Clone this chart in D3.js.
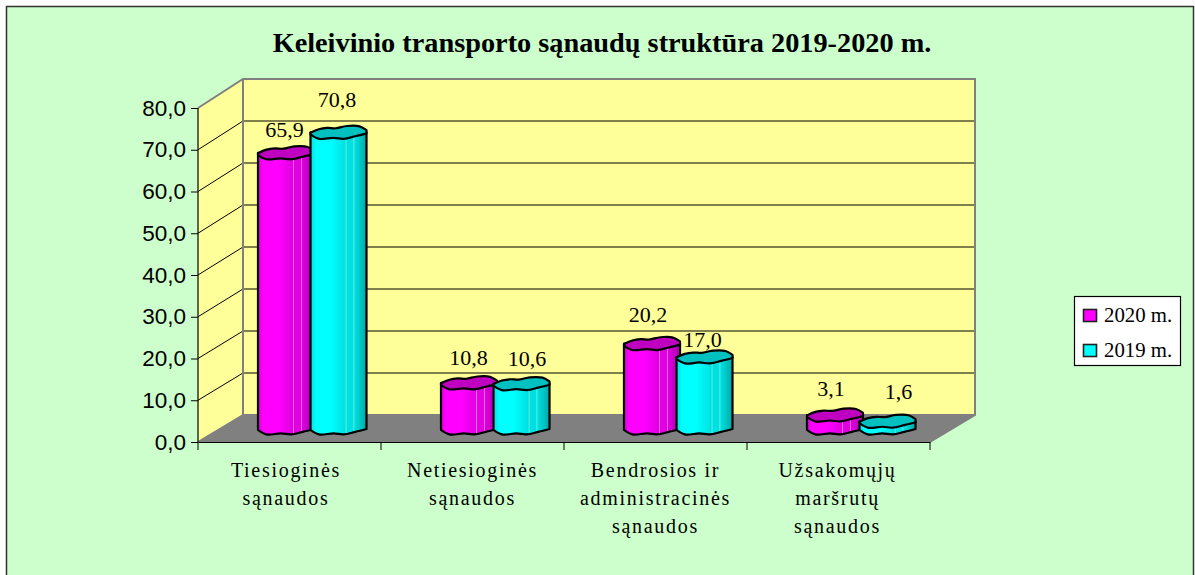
<!DOCTYPE html>
<html lang="lt">
<head>
<meta charset="UTF-8">
<title>Keleivinio transporto sąnaudų struktūra</title>
<script src="https://d3js.org/d3.v7.min.js"></script>
<style>
  html, body { margin: 0; padding: 0; background: #fff; }
  svg { display: block; }
  .serif { font-family: "Liberation Serif", serif; fill: #000; }
  .yaxis text { font-family: "Liberation Sans", sans-serif; font-size: 22.5px; fill: #000; }
  .yaxis path { stroke: none; }
  .yaxis line, .xaxis path, .xaxis line { stroke: #000; stroke-width: 1px; }
</style>
</head>
<body>
<svg width="1195" height="575" viewBox="0 0 1195 575"></svg>
<script>
// data
const title = 'Keleivinio transporto sąnaudų struktūra 2019-2020 m.';
const categories = ['Tiesioginės', 'Netiesioginės', 'Bendrosios ir administracinės', 'Užsakomųjų maršrutų'];
const categoryLines = [
  ['Tiesioginės', 'sąnaudos'],
  ['Netiesioginės', 'sąnaudos'],
  ['Bendrosios ir', 'administracinės', 'sąnaudos'],
  ['Užsakomųjų', 'maršrutų', 'sąnaudos']
];
const seriesNames = ['2020 m.', '2019 m.'];
const values2020 = [65.9, 10.8, 20.2, 3.1];
const values2019 = [70.8, 10.6, 17.0, 1.6];
const yTicks = [0, 10, 20, 30, 40, 50, 60, 70, 80];

// layout
const svg = d3.select('svg');
const front = { x0: 198, x1: 930, y0: 442, y1: 108 };
const back = { x0: 243, x1: 975, y0: 415, y1: 79 };
const barW = 56, capH = 6.4, baseY = 428;

const yFront = d3.scaleLinear().domain([0, 80]).range([front.y0, front.y1]);
const yBack = d3.scaleLinear().domain([0, 80]).range([back.y0, back.y1]);
const x0 = d3.scaleBand().domain(categories).range([front.x0, front.x1]);
const x1 = d3.scaleBand().domain(seriesNames).range([60, 165]);
const barH = v => yFront(0) - yFront(v);

const colors = {
  '2020 m.': { cap: '#c000c0', dark: '#a800a8', mid: '#ff00ff', edge: '#e000e0', pale: '#f070f0' },
  '2019 m.': { cap: '#00c0c0', dark: '#00a8a8', mid: '#00ffff', edge: '#00e0e0', pale: '#70f0e8' }
};

// panel
svg.append('rect').attr('x', 6.5).attr('y', 6.5).attr('width', 1187).attr('height', 580)
  .attr('fill', '#ccffcc').attr('stroke', '#333').attr('stroke-width', 1.5);

// walls and floor
const wallLine = d3.line();
svg.append('path')
  .attr('d', wallLine([[front.x0, front.y0], [back.x0, back.y0], [back.x1, back.y0], [back.x1, back.y1], [back.x0, back.y1], [front.x0, front.y1]]) + 'Z')
  .attr('fill', '#ffff99');
svg.append('path')
  .attr('d', wallLine([[front.x0, front.y0], [front.x1, front.y0], [back.x1, back.y0], [back.x0, back.y0]]) + 'Z')
  .attr('fill', '#808080');

// gridlines on both walls
const grid = svg.append('g').attr('fill', 'none').attr('stroke', '#000').attr('stroke-width', 1);
yTicks.slice(1, -1).forEach(t => {
  grid.append('path').attr('d', wallLine([[front.x0, yFront(t)], [back.x0, yBack(t)], [back.x1, yBack(t)]]));
});

// wall outlines
const outline = svg.append('g').attr('fill', 'none').attr('stroke', '#808080').attr('stroke-width', 2);
outline.append('path').attr('d', wallLine([[front.x0, front.y1], [back.x0, back.y1], [back.x1, back.y1], [back.x1, back.y0], [front.x1, front.y0]]));
outline.append('path').attr('d', wallLine([[back.x0, back.y1], [back.x0, back.y0], [front.x0, front.y0]]));
outline.append('path').attr('d', wallLine([[back.x0, back.y0], [back.x1, back.y0]]));

// axes
svg.append('g').attr('class', 'yaxis').attr('transform', `translate(${front.x0},0)`)
  .call(d3.axisLeft(yFront).tickValues(yTicks).tickSize(7).tickPadding(5).tickFormat(d => d3.format('.1f')(d).replace('.', ',')));
svg.append('line').attr('x1', front.x0).attr('x2', front.x0).attr('y1', front.y0).attr('y2', front.y1)
  .attr('stroke', '#000').attr('stroke-width', 1.2);

const xAxis = svg.append('g').attr('class', 'xaxis').attr('transform', `translate(0,${front.y0})`)
  .call(d3.axisBottom(x0).tickSize(0).tickFormat(''));
xAxis.selectAll('.tick').remove();
d3.range(categories.length + 1).forEach(i => {
  const tx = i < categories.length ? x0(categories[i]) : front.x1;
  xAxis.append('line').attr('x1', tx).attr('x2', tx).attr('y1', 0).attr('y2', 8);
});

// gradient for the cylinder sides, the thin pale lines come from the original renderer
const defs = svg.append('defs');
seriesNames.forEach((s, i) => {
  const c = colors[s];
  const stops = [[0, c.edge], [0.1, c.mid], [0.36, c.mid], [0.62, c.edge], [0.635, c.pale], [0.65, c.edge], [0.76, c.edge], [0.775, c.pale], [0.79, c.edge], [1, c.dark]];
  const g = defs.append('linearGradient').attr('id', 'side' + i);
  stops.forEach(p => g.append('stop').attr('offset', p[0]).attr('stop-color', p[1]));
});

// lumpy cap outline, unit coordinates clockwise from the left point
const capTop = [[-1, 0.05], [-0.7, -0.5], [-0.4, -0.7], [-0.1, -0.65], [0.3, -1], [0.75, -0.95], [1, -0.35]];
const capBottom = [[1, 0.15], [0.6, 0.6], [0.18, 1], [-0.18, 0.85], [-0.7, 1], [-1, 0.3]];
const lump = d3.line().curve(d3.curveCatmullRom.alpha(0.5));

function scalePts(pts, cx, cy) {
  return pts.map(p => [cx + p[0] * barW / 2, cy + p[1] * capH]);
}

// bars, drawn 2020 first so that 2019 overlaps it
const rows = categories.map((c, i) => ({ cat: c, vals: [values2020[i], values2019[i]] }));
const bars = svg.append('g');
rows.forEach(row => {
  row.vals.forEach((v, j) => {
    const s = seriesNames[j];
    const cx = x0(row.cat) + x1(s) + barW / 2;
    const topY = baseY - barH(v);
    const g = bars.append('g').attr('stroke', '#000').attr('stroke-width', 2.2).attr('stroke-linejoin', 'round');
    // side: down the left edge, along the lumpy bottom, back up the right edge
    const bottomPts = scalePts(capBottom, cx, baseY).reverse();
    g.append('path')
      .attr('d', `M${cx - barW / 2},${topY}` + lump(bottomPts).replace(/^M/, 'L') + `L${cx + barW / 2},${topY}Z`)
      .attr('fill', `url(#side${j})`);
    g.append('path')
      .attr('d', lump(scalePts(capTop, cx, topY)) + lump(scalePts(capBottom, cx, topY)).replace(/^M/, 'L') + 'Z')
      .attr('fill', colors[s].cap);
  });
});

// data labels, each nudged by hand like in the original chart
const labelNudge = [
  [[-1.5, -16], [-1.5, -25]],
  [[-0.5, -18], [5.5, -18]],
  [[-4, -22], [-2, -10]],
  [[-4, -19], [11, -22]]
];
const fmt = d => d3.format('.1f')(d).replace('.', ',');
rows.forEach((row, i) => {
  row.vals.forEach((v, j) => {
    const cx = x0(row.cat) + x1(seriesNames[j]) + barW / 2;
    svg.append('text').attr('class', 'serif')
      .attr('x', cx + labelNudge[i][j][0])
      .attr('y', baseY - barH(v) + labelNudge[i][j][1])
      .attr('text-anchor', 'middle').attr('font-size', 22).text(fmt(v));
  });
});

// category labels
const categoryNudge = [-3.5, 0, 0, -1];
categoryLines.forEach((lines, i) => {
  const cx = x0(categories[i]) + x0.bandwidth() / 2 + categoryNudge[i];
  lines.forEach((l, k) => {
    svg.append('text').attr('class', 'serif')
      .attr('x', cx).attr('y', 477 + k * 28)
      .attr('text-anchor', 'middle').attr('font-size', 20).attr('letter-spacing', 1.7).text(l);
  });
});

// title
svg.append('text').attr('class', 'serif').attr('x', 602).attr('y', 52)
  .attr('text-anchor', 'middle').attr('font-size', 28.3).attr('font-weight', 'bold').text(title);

// legend
const legend = svg.append('g');
legend.append('rect').attr('x', 1074.5).attr('y', 296.5).attr('width', 106).attr('height', 69)
  .attr('fill', '#fff').attr('stroke', '#000').attr('stroke-width', 1.2);
seriesNames.forEach((s, i) => {
  const ly = 315 + i * 35;
  legend.append('rect').attr('x', 1083.5).attr('y', ly - 5.5).attr('width', 13).attr('height', 12)
    .attr('fill', colors[s].mid).attr('stroke', '#222').attr('stroke-width', 1.6);
  legend.append('text').attr('class', 'serif').attr('x', 1104).attr('y', ly + 7)
    .attr('font-size', 20.8).text(s);
});
</script>
</body>
</html>
